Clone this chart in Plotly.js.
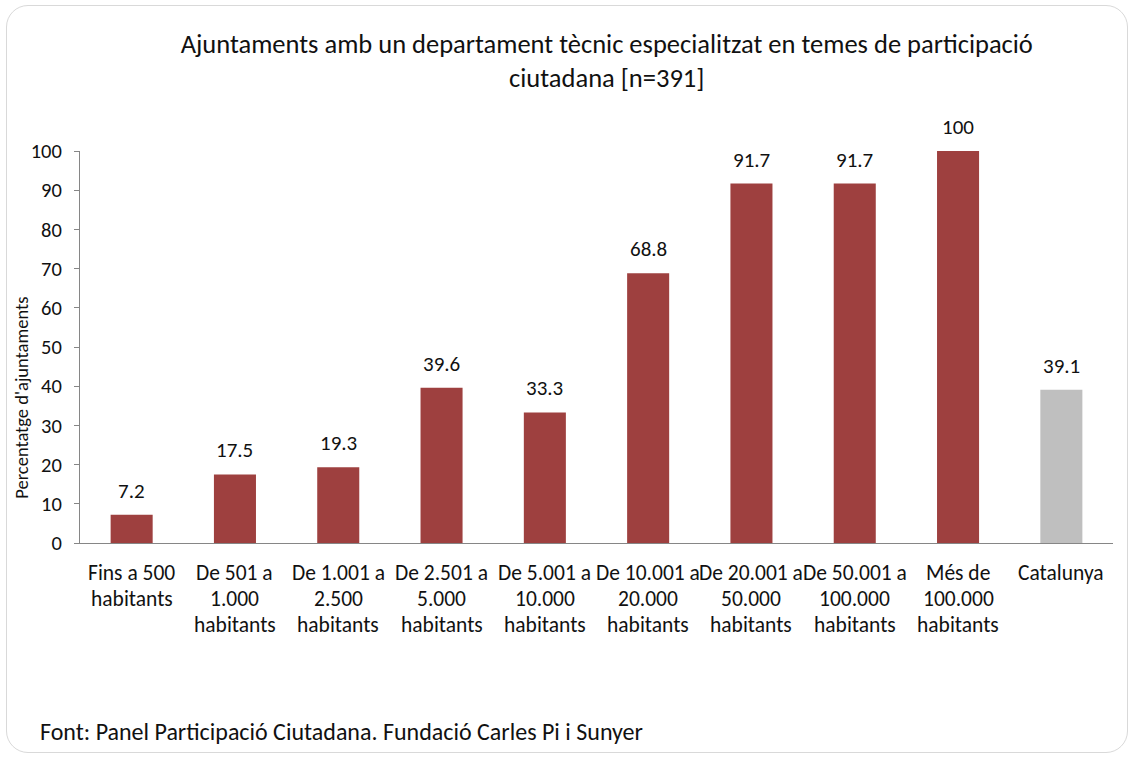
<!DOCTYPE html>
<html>
<head>
<meta charset="utf-8">
<script src="https://cdn.plot.ly/plotly-3.0.1.min.js"></script>
<style>
  html, body { margin:0; padding:0; background:#fff; }
  #wrap { position:relative; width:1132px; height:758px; overflow:hidden; }
  #frame { position:absolute; left:6px; top:5px; width:1122px; height:748px;
           border:1.5px solid #d9d9d9; border-radius:22px; box-sizing:border-box; pointer-events:none; }
  #chart { position:absolute; left:0; top:0; width:1132px; height:758px; }
</style>
</head>
<body>
<div id="wrap">
  <div id="chart"></div>
  <div id="frame"></div>
</div>
<script>
const categories = [
  'Fins a 500<br>habitants',
  'De 501 a<br>1.000<br>habitants',
  'De 1.001 a<br>2.500<br>habitants',
  'De 2.501 a<br>5.000<br>habitants',
  'De 5.001 a<br>10.000<br>habitants',
  'De 10.001 a<br>20.000<br>habitants',
  'De 20.001 a<br>50.000<br>habitants',
  'De 50.001 a<br>100.000<br>habitants',
  'Més de<br>100.000<br>habitants',
  'Catalunya'
];
const values = [7.2, 17.5, 19.3, 39.6, 33.3, 68.8, 91.7, 91.7, 100, 39.1];
const valueLabels = ['7.2', '17.5', '19.3', '39.6', '33.3', '68.8', '91.7', '91.7', '100', '39.1'];
const yTicks = [0, 10, 20, 30, 40, 50, 60, 70, 80, 90, 100];
const titleText = 'Ajuntaments amb un departament tècnic especialitzat en temes de participació<br>ciutadana [n=391]';
const yTitle = "Percentatge d'ajuntaments";
const sourceText = 'Font: Panel Participació Ciutadana. Fundació Carles Pi i Sunyer';

const FONT = 'Carlito, Lato, "Liberation Sans", sans-serif';
const RED = '#9E403F';
const GREY = '#BFBFBF';
const TXT = '#111111';
const colors = categories.map(c => c === 'Catalunya' ? GREY : RED);

const annotations = [];
// data labels
categories.forEach((c, i) => {
  annotations.push({
    x: c, y: values[i], xref: 'x', yref: 'y', text: valueLabels[i],
    showarrow: false, yanchor: 'middle', yshift: 24,
    font: { family: FONT, size: 21, color: TXT }
  });
});
// category labels, line by line
categories.forEach((c) => {
  c.split('<br>').forEach((line, j) => {
    annotations.push({
      x: c, y: 0, xref: 'x', yref: 'y', text: line,
      showarrow: false, yanchor: 'middle', yshift: -30 - 26 * j,
      font: { family: FONT, size: 21.5, color: TXT }
    });
  });
});
// y axis title
annotations.push({
  x: -0.0564, y: 0.37, xref: 'paper', yref: 'paper', text: yTitle,
  showarrow: false, textangle: -90, xanchor: 'center', yanchor: 'middle',
  font: { family: FONT, size: 18.5, color: TXT }
});
// source
annotations.push({
  x: -0.0407, y: -0.4796, xref: 'paper', yref: 'paper', text: sourceText,
  showarrow: false, xanchor: 'left', yanchor: 'middle',
  font: { family: FONT, size: 24, color: TXT }
});

const trace = {
  type: 'bar', x: categories, y: values,
  marker: { color: colors, line: { width: 0 } },
  hoverinfo: 'x+y'
};

const layout = {
  width: 1132, height: 758,
  margin: { l: 80, r: 19, t: 151, b: 215 },
  paper_bgcolor: 'rgba(0,0,0,0)', plot_bgcolor: 'rgba(0,0,0,0)',
  showlegend: false,
  bargap: 0.593,
  title: {
    text: titleText, xref: 'container', yref: 'container',
    x: 0.536, xanchor: 'center', y: 1 - 53 / 758, yanchor: 'top',
    font: { family: FONT, size: 26.5, color: TXT }
  },
  xaxis: {
    type: 'category', showticklabels: false, showgrid: false, zeroline: false,
    showline: true, linecolor: '#868686', linewidth: 1, ticks: ''
  },
  yaxis: {
    range: [0, 100], tickvals: yTicks, ticktext: yTicks.map(String),
    showgrid: false, zeroline: false, showline: true, linecolor: '#868686', linewidth: 1,
    ticks: 'outside', ticklen: 5, tickcolor: '#868686', tickwidth: 1,
    ticklabelstandoff: 8,
    tickfont: { family: FONT, size: 20.5, color: TXT }
  },
  annotations: annotations
};

Plotly.newPlot('chart', [trace], layout, { displayModeBar: false, staticPlot: true });
</script>
</body>
</html>
